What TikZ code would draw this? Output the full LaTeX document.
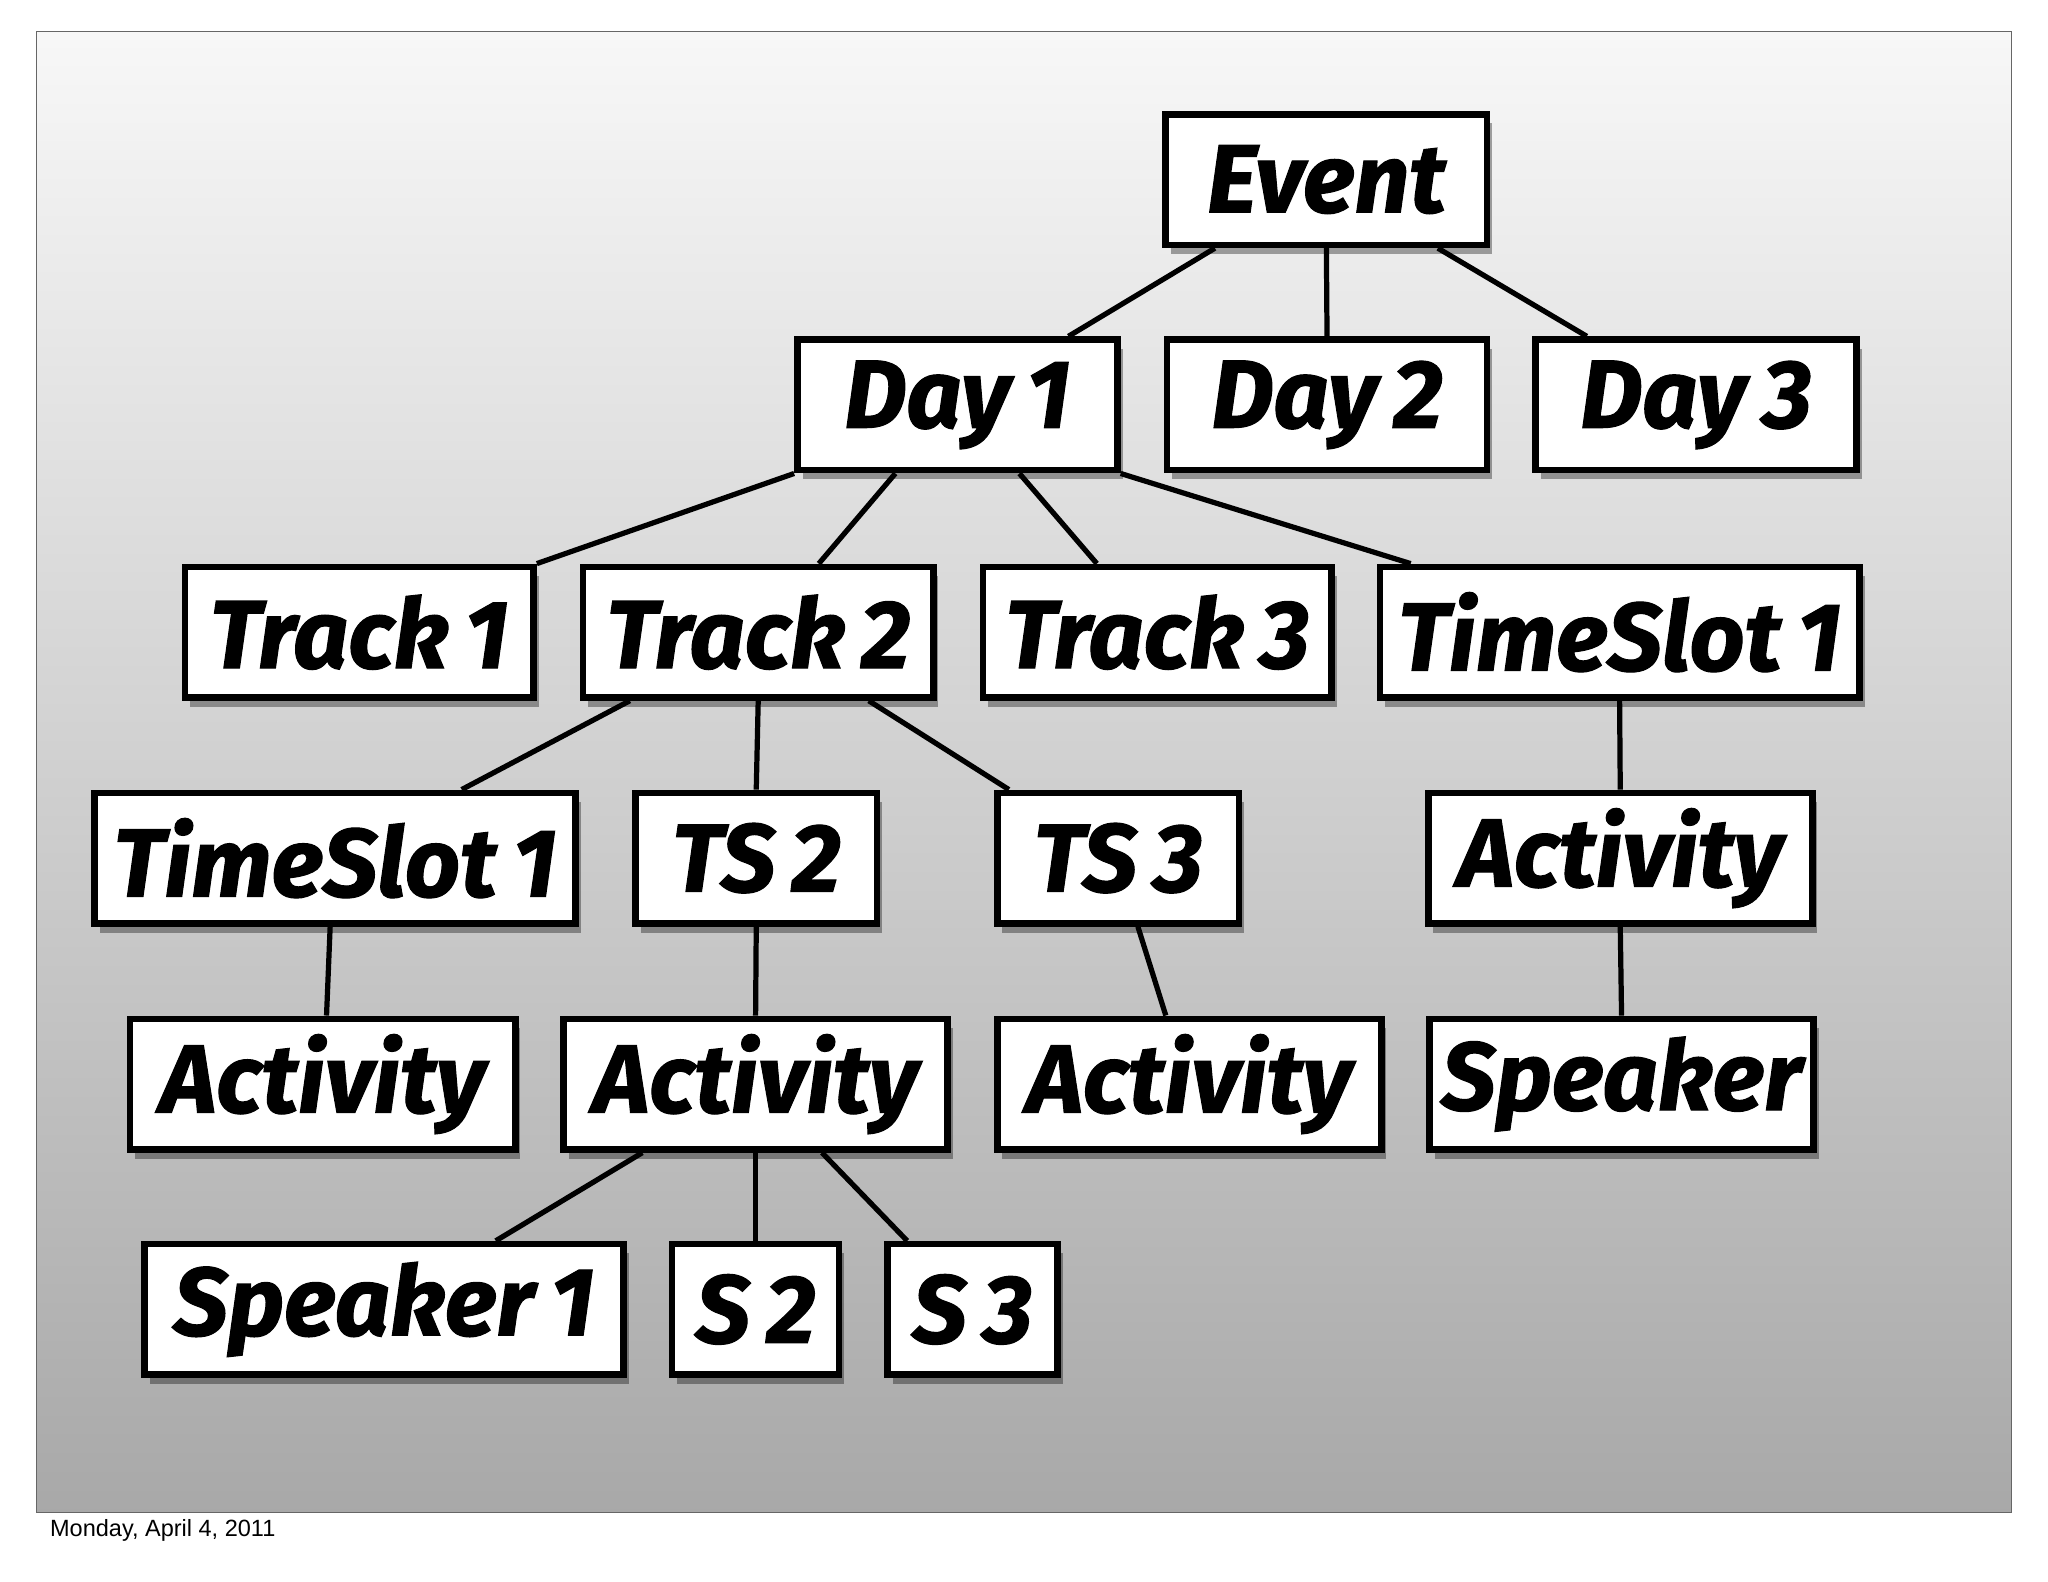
\documentclass[tikz,border=0pt]{standalone}
\usepackage{fontspec}
\setmainfont{Liberation Sans}
\newfontfamily\boxfont[FakeBold=1.2,WordSpace=0.75]{Fira Sans}
\usepackage{tikz}
\usetikzlibrary{shapes,positioning,calc,shadows}

\begin{document}
\begin{tikzpicture}[
      x=0.5pt,y=-0.5pt,
      block/.style={
        rectangle,
        draw,
        line width=2.5pt,
        fill=white,
        inner sep=0pt,
        minimum height=50pt,
        font=\boxfont\bfseries\itshape\fontsize{37}{39}\selectfont,
        drop shadow={shadow xshift=2pt, shadow yshift=-3.5pt, opacity=0.35, fill=black}
      },
      link/.style={line width=2pt,draw=black}
    ]
    \useasboundingbox (0,0) rectangle (1568,1211.2);

    % Slide background
    \shade[top color=black!3, bottom color=black!34] (28,24) rectangle (1540,1158);
    \draw[black!60,line width=0.6pt] (28,24) rectangle (1540,1158);
    \node[anchor=base west,font=\fontsize{9}{10}\selectfont,inner sep=0pt] (date) at (38,1176) {Monday, April 4, 2011};

    % Event and Days
    \node[block,minimum width=123pt] (event) at (1015.5,137.5) {Event};
    \node[block,minimum width=122.5pt] (day1) at (733,310) {Day 1};
    \node[block,minimum width=122.5pt] (day2) at (1016,310) {Day 2};
    \node[block,minimum width=123pt] (day3) at (1298.5,310) {Day 3};

    % Tracks
    \node[block,minimum width=133.5pt] (track1) at (275,484) {Track 1};
    \node[block,minimum width=134pt] (track2) at (580.5,484) {Track 2};
    \node[block,minimum width=133.5pt] (track3) at (886,484) {Track 3};
    \node[block,minimum width=183.5pt] (slot) at (1240,484) {TimeSlot 1};

    % Time slots
    \node[block,minimum width=184pt] (slota) at (256.5,657) {TimeSlot 1};
    \node[block,minimum width=92.5pt] (ts2) at (579,657) {TS 2};
    \node[block,minimum width=92.5pt] (ts3) at (856,657) {TS 3};
    \node[block,minimum width=147pt] (actr) at (1240.5,657) {Activity};

    % Activities
    \node[block,minimum width=147.5pt] (act1) at (247,830) {Activity};
    \node[block,minimum width=147pt] (act2) at (578.5,830) {Activity};
    \node[block,minimum width=147pt] (act3) at (910.5,830) {Activity};
    \node[block,minimum width=147pt] (spk) at (1241.5,830) {Speaker};

    % Speakers
    \node[block,minimum width=183.5pt] (spk1) at (294,1002.5) {Speaker 1};
    \node[block,minimum width=64pt] (s2) at (578.5,1002.5) {S 2};
    \node[block,minimum width=65pt] (s3) at (744.5,1002.5) {S 3};

    \draw[link] ($(event.south west)!0.16!(event.south east)$) -- ($(day1.north west)!0.84!(day1.north east)$);
    \draw[link] (event.south) -- (day2.north);
    \draw[link] ($(event.south west)!0.84!(event.south east)$) -- ($(day3.north west)!0.167!(day3.north east)$);

    \draw[link] (day1.south west) -- (track1.north east);
    \draw[link] ($(day1.south west)!0.31!(day1.south east)$) -- ($(track2.north west)!0.67!(track2.north east)$);
    \draw[link] ($(day1.south west)!0.69!(day1.south east)$) -- ($(track3.north west)!0.33!(track3.north east)$);
    \draw[link] (day1.south east) -- ($(slot.north west)!0.07!(slot.north east)$);

    \draw[link] ($(track2.south west)!0.14!(track2.south east)$) -- ($(slota.north west)!0.76!(slota.north east)$);
    \draw[link] (track2.south) -- (ts2.north);
    \draw[link] ($(track2.south west)!0.81!(track2.south east)$) -- ($(ts3.north west)!0.06!(ts3.north east)$);
    \draw[link] (slot.south) -- (actr.north);

    \draw[link] ($(slota.south west)!0.49!(slota.south east)$) -- ($(act1.north west)!0.51!(act1.north east)$);
    \draw[link] (ts2.south) -- (act2.north);
    \draw[link] ($(ts3.south west)!0.58!(ts3.south east)$) -- ($(act3.north west)!0.44!(act3.north east)$);
    \draw[link] (actr.south) -- (spk.north);

    \draw[link] ($(act2.south west)!0.21!(act2.south east)$) -- ($(spk1.north west)!0.73!(spk1.north east)$);
    \draw[link] (act2.south) -- (s2.north);
    \draw[link] ($(act2.south west)!0.67!(act2.south east)$) -- ($(s3.north west)!0.13!(s3.north east)$);
  \end{tikzpicture}
\end{document}
